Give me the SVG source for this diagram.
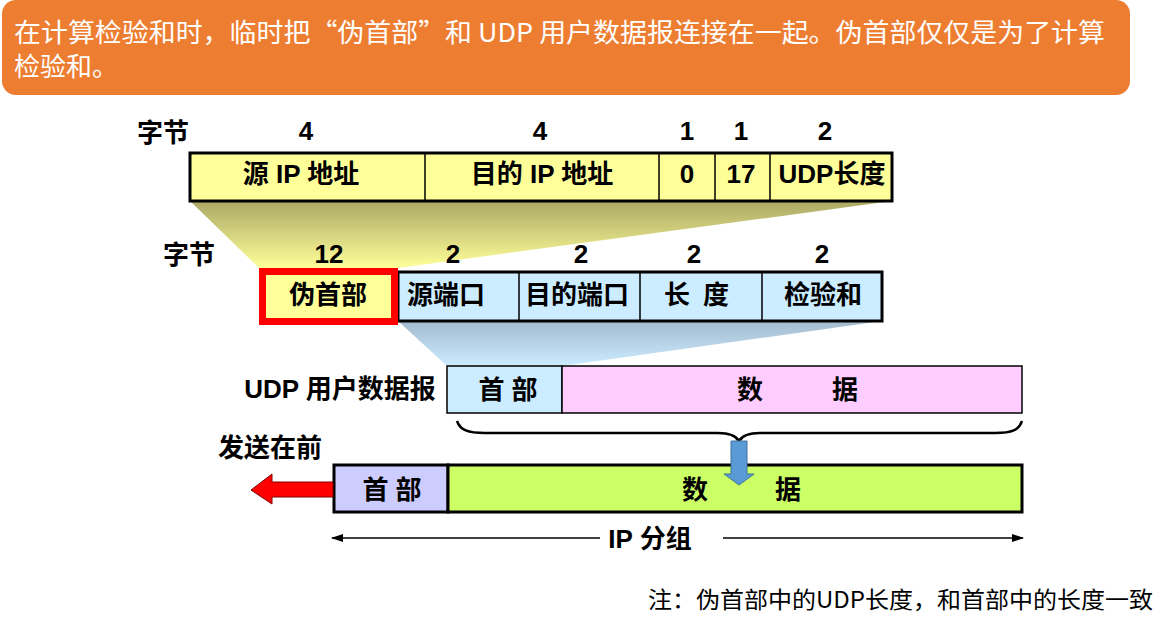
<svg xmlns="http://www.w3.org/2000/svg" width="1169" height="628" viewBox="0 0 1169 628">
<style>
.lb{font-family:"Liberation Sans","Noto Sans CJK SC",sans-serif;font-weight:bold;font-size:26px;fill:#000;text-anchor:middle}
.box{stroke:#000;stroke-width:3}
.thin{stroke:#000;stroke-width:1.5}
.ban{font-family:"Noto Sans CJK SC",sans-serif;font-size:26px;fill:#fff}
</style>
<defs>
<linearGradient id="gy" x1="0" y1="0" x2="0" y2="1">
<stop offset="0" stop-color="#ABA865"/><stop offset="1" stop-color="#FFFF99"/>
</linearGradient>
<linearGradient id="gb" x1="0" y1="0" x2="0" y2="1">
<stop offset="0" stop-color="#A3BACE"/><stop offset="1" stop-color="#CCECFF"/>
</linearGradient>
<marker id="ah" markerWidth="12" markerHeight="8" refX="11" refY="4" orient="auto-start-reverse" markerUnits="userSpaceOnUse">
<path d="M0,0 L12,4 L0,8 Z" fill="#000"/>
</marker>
</defs>

<g id="banner">
<rect x="2" y="0" width="1128" height="95" rx="14" fill="#ED7D31"/>
<text class="ban" x="14" y="42" textLength="1091" lengthAdjust="spacingAndGlyphs">在计算检验和时，临时把“伪首部”和 UDP 用户数据报连接在一起。伪首部仅仅是为了计算</text>
<text class="ban" x="14" y="76">检验和。</text>
</g>

<g id="trapezoids">
<polygon points="190,201 892,201 398,268 259,268" fill="url(#gy)"/>
<polygon points="398,321 882,321 562,366 447,366" fill="url(#gb)"/>
</g>

<g id="pseudo-header">
<text class="lb" x="163" y="142">字节</text>
<text class="lb" x="306" y="140">4</text>
<text class="lb" x="540" y="140">4</text>
<text class="lb" x="687" y="140">1</text>
<text class="lb" x="741" y="140">1</text>
<text class="lb" x="825" y="140">2</text>
<rect class="box" x="190" y="153" width="702" height="48" fill="#FFFF99"/>
<line class="thin" x1="425" y1="153" x2="425" y2="201"/>
<line class="thin" x1="659" y1="153" x2="659" y2="201"/>
<line class="thin" x1="715" y1="153" x2="715" y2="201"/>
<line class="thin" x1="770" y1="153" x2="770" y2="201"/>
<text class="lb" x="301" y="183">源 IP 地址</text>
<text class="lb" x="542" y="183">目的 IP 地址</text>
<text class="lb" x="687" y="183">0</text>
<text class="lb" x="741" y="183">17</text>
<text class="lb" x="832" y="183">UDP长度</text>
</g>

<g id="udp-header">
<text class="lb" x="189" y="264">字节</text>
<text class="lb" x="329" y="263">12</text>
<text class="lb" x="453" y="263">2</text>
<text class="lb" x="581" y="263">2</text>
<text class="lb" x="694" y="263">2</text>
<text class="lb" x="822" y="263">2</text>
<rect class="box" x="398" y="272" width="484" height="49" fill="#CCECFF"/>
<line class="thin" x1="519" y1="272" x2="519" y2="321"/>
<line class="thin" x1="640" y1="272" x2="640" y2="321"/>
<line class="thin" x1="762" y1="272" x2="762" y2="321"/>
<rect x="262.5" y="271.5" width="132" height="50" fill="#FFFF99" stroke="#FF0000" stroke-width="7"/>
<text class="lb" x="328" y="304">伪首部</text>
<text class="lb" x="446" y="304">源端口</text>
<text class="lb" x="577" y="304">目的端口</text>
<text class="lb" x="677" y="304">长</text>
<text class="lb" x="716" y="304">度</text>
<text class="lb" x="823" y="304">检验和</text>
</g>

<g id="udp-datagram">
<text class="lb" x="340" y="398">UDP 用户数据报</text>
<rect class="thin" x="447" y="366" width="115" height="47" fill="#CCECFF"/>
<rect class="thin" x="562" y="366" width="460" height="47" fill="#FFCCFF"/>
<text class="lb" x="508" y="399">首 部</text>
<text class="lb" x="750" y="399">数</text>
<text class="lb" x="845" y="399">据</text>
</g>

<g id="ip-packet">
<text class="lb" x="270" y="457">发送在前</text>
<rect class="box" x="334" y="465" width="114" height="47" fill="#CCCCFF"/>
<rect class="box" x="448" y="465" width="574" height="47" fill="#CCFF66"/>
<text class="lb" x="392" y="499">首 部</text>
<text class="lb" x="695" y="499">数</text>
<text class="lb" x="788" y="499">据</text>
</g>

<g id="connectors">
<path d="M457,421 C460,430 468,433 485,433 L718,433 C730,433 736,436 739,441 C742,436 748,433 760,433 L995,433 C1012,433 1019,430 1022,421" fill="none" stroke="#000" stroke-width="2.5"/>
<polygon points="731,441 747,441 747,474 754,474 739,485 724,474 731,474" fill="#5B9BD5" stroke="#41719C" stroke-width="1"/>
<polygon points="333,482 272,482 272,474 251,490 272,504 272,497 333,497" fill="#FF0000" stroke="#7F0000" stroke-width="1"/>
<line x1="600" y1="538" x2="332" y2="538" stroke="#000" stroke-width="1.5" marker-end="url(#ah)"/>
<line x1="723" y1="538" x2="1023" y2="538" stroke="#000" stroke-width="1.5" marker-end="url(#ah)"/>
<text class="lb" x="650" y="548">IP 分组</text>
</g>

<g id="note">
<text x="648" y="608" font-family="Noto Sans CJK SC, sans-serif" font-size="23" fill="#000" textLength="505" lengthAdjust="spacingAndGlyphs">注：伪首部中的UDP长度，和首部中的长度一致</text>
</g>
</svg>
